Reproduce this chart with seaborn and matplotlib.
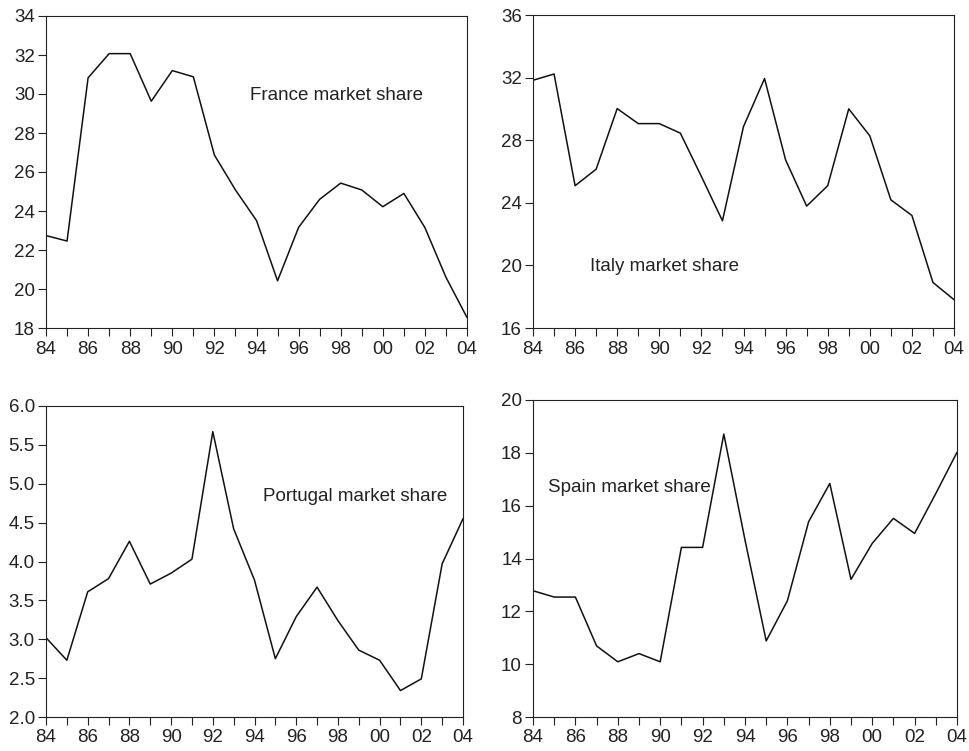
import numpy as np
import pandas as pd
import seaborn as sns
import matplotlib.pyplot as plt

years = list(range(1984, 2005))
year_labels = ["84", "86", "88", "90", "92", "94", "96", "98", "00", "02", "04"]

france = [22.74, 22.46, 30.83, 32.07, 32.07, 29.63, 31.2, 30.88, 26.87, 25.08, 23.51,
          20.42, 23.16, 24.6, 25.43, 25.08, 24.22, 24.9, 23.15, 20.6, 18.54]
italy = [31.83, 32.23, 25.09, 26.15, 30.02, 29.06, 29.06, 28.45, 25.68, 22.85, 28.87,
         31.94, 26.74, 23.79, 25.09, 30.0, 28.28, 24.19, 23.19, 18.91, 17.81]
portugal = [3.02, 2.73, 3.61, 3.78, 4.26, 3.71, 3.85, 4.03, 5.67, 4.42, 3.76,
            2.75, 3.29, 3.67, 3.24, 2.86, 2.73, 2.34, 2.49, 3.97, 4.55]
spain = [12.78, 12.54, 12.54, 10.69, 10.09, 10.4, 10.09, 14.42, 14.42, 18.71, 14.7,
         10.88, 12.4, 15.39, 16.84, 13.21, 14.57, 15.52, 14.95, 16.46, 18.02]

sns.set_theme(style="ticks")
plt.rcParams['font.family'] = ['Liberation Sans', 'DejaVu Sans']

fig = plt.figure(figsize=(9.7, 7.51), dpi=100)

W, H = 970, 751
def add_ax(left, top, right, bottom):
    return fig.add_axes([left / W, 1 - bottom / H, (right - left) / W, (bottom - top) / H])

panels = [
    (add_ax(46, 16, 467, 328), france, "France market share", (1993.7, 29.94), (18, 34), np.arange(18, 35, 2), "{:.0f}"),
    (add_ax(533, 15, 954, 328), italy, "Italy market share", (1986.7, 19.9), (16, 36), np.arange(16, 37, 4), "{:.0f}"),
    (add_ax(46, 406, 463, 717), portugal, "Portugal market share", (1994.4, 4.83), (2.0, 6.0), np.arange(2.0, 6.01, 0.5), "{:.1f}"),
    (add_ax(533, 400, 957, 717), spain, "Spain market share", (1984.7, 16.67), (8, 20), np.arange(8, 21, 2), "{:.0f}"),
]

for ax, vals, label, pos, ylim, yticks, fmt in panels:
    df = pd.DataFrame({"year": years, "share": vals})
    sns.lineplot(data=df, x="year", y="share", ax=ax, color="#111111", linewidth=1.1)
    ax.set_xlim(1984, 2004)
    ax.set_ylim(*ylim)
    ax.set_xticks(range(1984, 2005, 2))
    ax.set_xticklabels(year_labels)
    ax.set_xticks(years, minor=True)
    ax.set_yticks(yticks)
    ax.set_yticklabels([fmt.format(v) for v in yticks])
    ax.set_xlabel("")
    ax.set_ylabel("")
    ax.tick_params(axis="both", which="major", labelsize=13.5, colors="#222222", length=6, width=0.8, direction="out")
    ax.tick_params(axis="x", which="minor", length=6, width=0.8, color="#222222")
    ax.tick_params(axis="x", pad=3)
    ax.tick_params(axis="y", pad=2)
    for s in ax.spines.values():
        s.set_linewidth(0.8)
        s.set_color("#222222")
    ax.text(pos[0], pos[1], label, fontsize=13.5, va="center", ha="left", color="#222222")

plt.savefig("out.png", dpi=100)
